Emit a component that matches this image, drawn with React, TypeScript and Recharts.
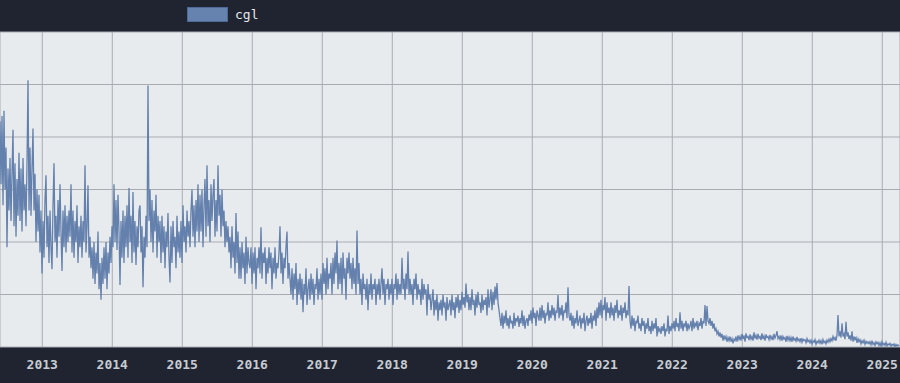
import { LineChart, Line, XAxis, YAxis, CartesianGrid } from 'recharts'

// first sample sits at the left edge, samples are ~5.2 days apart
const START = 2012.396
const STEP = 1 / 70

const YEARS = [2013, 2014, 2015, 2016, 2017, 2018, 2019, 2020, 2021, 2022, 2023, 2024, 2025]
const Y_TICKS = [0, 1, 2, 3, 4, 5, 6]

// cgl (one row ~ 2 months)
const CGL = [
  4.3, 3.1, 4.4, 2.7, 4.5, 3.0, 3.8, 1.9, 3.4, 2.6,
  3.6, 2.4, 3.3, 4.14, 2.3, 3.5, 2.1, 3.2, 2.5, 3.7,
  2.4, 3.4, 2.2, 3.6, 2.6, 3.1, 2.3, 3.5, 5.08, 2.6,
  3.8, 2.5, 3.4, 4.16, 2.6, 3.3, 2.0, 3.0, 2.2, 2.9,
  1.8, 2.6, 1.4, 2.4, 1.7, 2.8, 3.27, 1.9, 2.5, 1.6,
  2.6, 1.9, 1.48, 2.7, 3.5, 2.0, 2.5, 1.7, 2.8, 2.1,
  3.1, 2.2, 1.45, 2.6, 1.9, 2.7, 1.8, 2.5, 2.0, 2.6,
  2.1, 3.1, 1.8, 2.6, 1.7, 2.4, 2.0, 2.7, 1.6, 2.3,
  1.9, 2.5, 1.7, 2.4, 2.0, 3.46, 1.8, 2.3, 3.08, 1.7,
  2.1, 1.5, 1.9, 1.3, 2.0, 1.2, 1.8, 1.4, 2.2, 1.1,
  1.6, 0.9, 1.7, 1.2, 1.9, 1.3, 2.0, 1.1, 1.8, 1.4,
  2.1, 1.6, 2.3, 1.9, 3.1, 2.0, 2.8, 1.85, 2.9, 2.2,
  1.18, 2.4, 1.7, 2.6, 1.6, 2.5, 1.9, 2.7, 1.7, 3.03,
  2.0, 2.5, 1.6, 2.95, 1.8, 2.4, 1.56, 2.3, 1.9, 2.6,
  2.7, 1.8, 2.3, 1.14, 2.1, 1.7, 2.5, 1.9, 4.98, 2.4,
  3.0, 2.0, 2.8, 1.8, 2.6, 2.2, 2.9, 1.7, 2.5, 2.0,
  2.4, 1.6, 2.5, 1.8, 2.3, 1.5, 2.2, 1.9, 2.55, 1.7,
  1.23, 2.3, 1.6, 2.4, 1.9, 2.1, 1.5, 2.5, 1.8, 2.2,
  1.7, 2.4, 1.6, 2.7, 2.0, 2.3, 1.8, 2.6, 2.1, 2.4,
  1.9, 2.6, 3.0, 2.1, 2.7, 1.9, 2.8, 2.2, 3.1, 2.0,
  2.9, 2.2, 3.0, 1.9, 2.7, 3.2, 2.1, 3.46, 2.3, 2.8,
  2.0, 3.1, 2.4, 2.9, 3.2, 2.1, 2.8, 2.2, 3.46, 2.5,
  2.9, 2.1, 3.0, 2.3, 2.6, 1.9, 2.4, 2.0, 2.3, 1.8,
  2.1, 1.5, 2.3, 1.7, 2.0, 1.4, 2.55, 1.6, 2.2, 1.3,
  1.9, 1.3, 2.0, 1.5, 1.8, 1.2, 2.1, 1.4, 1.9, 1.6,
  1.5, 1.9, 1.2, 1.8, 1.4, 1.9, 1.1, 1.7, 1.5, 1.9,
  1.4, 2.28, 1.3, 1.8, 1.6, 1.9, 1.2, 1.7, 1.4, 1.9,
  1.5, 1.8, 1.1, 1.7, 1.4, 1.9, 1.3, 1.6, 1.5, 1.8,
  2.3, 1.4, 1.8, 1.2, 1.7, 1.5, 1.9, 2.2, 1.3, 1.6,
  1.3, 1.0, 1.5, 0.9, 1.4, 1.1, 1.6, 0.8, 1.3, 1.0,
  1.4, 0.9, 1.3, 0.66, 1.2, 1.0, 1.5, 0.8, 1.1, 1.3,
  0.9, 1.4, 1.0, 1.3, 0.8, 1.2, 1.1, 1.5, 0.9, 1.3,
  1.0, 1.4, 0.9, 1.6, 1.2, 1.5, 1.0, 1.7, 1.1, 1.4,
  1.3, 1.6, 1.0, 1.7, 1.2, 1.8, 1.4, 2.03, 1.1, 1.6,
  1.2, 1.7, 1.0, 1.8, 1.3, 1.5, 0.9, 1.7, 1.4, 1.8,
  1.3, 1.6, 1.1, 1.7, 1.2, 1.5, 1.0, 2.22, 1.2, 1.6,
  1.0, 1.3, 0.8, 1.4, 1.1, 1.2, 0.9, 1.3, 0.7, 1.2,
  1.0, 1.4, 0.9, 1.2, 1.1, 1.3, 0.8, 1.2, 1.0, 1.3,
  0.9, 1.2, 1.5, 1.0, 1.3, 0.8, 1.2, 1.1, 1.3, 0.9,
  1.2, 1.0, 1.3, 0.8, 1.2, 1.1, 1.4, 0.9, 1.3, 1.0,
  1.2, 1.0, 1.7, 1.1, 1.3, 0.9, 1.4, 1.1, 1.82, 1.0,
  1.3, 1.0, 1.2, 0.8, 1.3, 1.1, 1.4, 0.9, 1.2, 1.0,
  1.1, 0.8, 1.3, 0.9, 1.2, 1.0, 1.1, 0.6, 1.2, 0.9,
  1.0, 0.7, 0.9, 1.1, 0.6, 0.9, 0.7, 1.0, 0.5, 0.85,
  0.7, 0.9, 0.6, 1.0, 0.75, 0.85, 0.5, 0.95, 0.7, 0.8,
  0.9, 0.6, 1.0, 0.7, 0.85, 0.55, 0.95, 0.75, 1.0, 0.65,
  0.9, 0.7, 1.05, 0.8, 0.95, 0.75, 1.21, 0.85, 1.0, 0.7,
  0.95, 0.7, 1.1, 0.8, 0.9, 0.6, 1.0, 0.75, 1.05, 0.8,
  0.85, 0.65, 1.0, 0.7, 0.9, 0.8, 0.95, 0.6, 1.1, 0.75,
  0.9, 1.1, 0.7, 1.05, 0.8, 1.15, 0.9, 1.22, 0.85, 0.7,
  0.55, 0.4, 0.65, 0.35, 0.6, 0.45, 0.7, 0.4, 0.55, 0.35,
  0.6, 0.45, 0.5, 0.35, 0.65, 0.4, 0.55, 0.5, 0.6, 0.38,
  0.55, 0.45, 0.7, 0.4, 0.6, 0.35, 0.5, 0.55, 0.4, 0.62,
  0.5, 0.7, 0.45, 0.75, 0.55, 0.65, 0.4, 0.7, 0.6, 0.5,
  0.75, 0.5, 0.8, 0.55, 0.7, 0.45, 0.65, 0.6, 0.85, 0.5,
  0.7, 0.55, 0.8, 0.6, 0.75, 0.5, 0.7, 0.65, 0.99, 0.55,
  0.75, 0.6, 0.8, 0.5, 0.7, 0.65, 0.85, 0.55, 1.14, 0.6,
  0.5, 0.65, 0.4, 0.6, 0.35, 0.55, 0.45, 0.7, 0.4, 0.5,
  0.6, 0.35, 0.55, 0.45, 0.65, 0.3, 0.5, 0.6, 0.4, 0.55,
  0.45, 0.65, 0.35, 0.6, 0.5, 0.7, 0.4, 0.75, 0.55, 0.85,
  0.6, 0.9, 0.55, 0.8, 0.7, 0.95, 0.5, 0.85, 0.65, 0.75,
  0.55, 0.85, 0.6, 0.75, 0.5, 0.8, 0.65, 0.9, 0.55, 0.7,
  0.6, 0.8, 0.5, 0.75, 0.65, 0.85, 0.55, 0.7, 0.6, 1.16,
  0.5, 0.35, 0.6, 0.4, 0.55, 0.3, 0.5, 0.45, 0.6, 0.35,
  0.45, 0.3, 0.55, 0.4, 0.5, 0.25, 0.45, 0.35, 0.55, 0.3,
  0.4, 0.25, 0.5, 0.3, 0.45, 0.35, 0.55, 0.2, 0.4, 0.3,
  0.35, 0.25, 0.4, 0.3, 0.45, 0.2, 0.35, 0.3, 0.6, 0.25,
  0.4, 0.3, 0.45, 0.35, 0.5, 0.3, 0.55, 0.38, 0.45, 0.3,
  0.66, 0.35, 0.5, 0.3, 0.45, 0.4, 0.5, 0.3, 0.45, 0.35,
  0.4, 0.5, 0.3, 0.55, 0.35, 0.45, 0.4, 0.5, 0.32, 0.45,
  0.4, 0.55, 0.35, 0.5, 0.45, 0.8, 0.4, 0.78, 0.5, 0.45,
  0.55, 0.4, 0.5, 0.35, 0.45, 0.3, 0.35, 0.25, 0.3, 0.2,
  0.28, 0.18, 0.25, 0.12, 0.22, 0.15, 0.2, 0.1, 0.18, 0.12,
  0.2, 0.1, 0.16, 0.07, 0.15, 0.12, 0.2, 0.1, 0.22, 0.14,
  0.2, 0.12, 0.25, 0.15, 0.22, 0.1, 0.26, 0.18, 0.2, 0.13,
  0.24, 0.15, 0.2, 0.12, 0.28, 0.16, 0.22, 0.14, 0.25, 0.17,
  0.2, 0.13, 0.26, 0.15, 0.21, 0.12, 0.24, 0.18, 0.2, 0.14,
  0.23, 0.15, 0.2, 0.13, 0.25, 0.17, 0.22, 0.3, 0.16, 0.2,
  0.14, 0.22, 0.12, 0.2, 0.15, 0.18, 0.1, 0.21, 0.13, 0.19,
  0.12, 0.18, 0.1, 0.2, 0.13, 0.16, 0.11, 0.19, 0.12, 0.15,
  0.1, 0.17, 0.09, 0.15, 0.12, 0.14, 0.08, 0.16, 0.1, 0.13,
  0.08, 0.13, 0.06, 0.12, 0.09, 0.14, 0.05, 0.11, 0.08, 0.13,
  0.07, 0.12, 0.05, 0.14, 0.08, 0.11, 0.06, 0.13, 0.09, 0.15,
  0.1, 0.16, 0.12, 0.2, 0.14, 0.18, 0.12, 0.22, 0.61, 0.2,
  0.3, 0.18, 0.45, 0.2, 0.25, 0.15, 0.48, 0.2, 0.28, 0.15,
  0.22, 0.12, 0.3, 0.1, 0.2, 0.14, 0.18, 0.08, 0.16, 0.1,
  0.14, 0.06, 0.12, 0.08, 0.13, 0.05, 0.11, 0.07, 0.1, 0.06,
  0.1, 0.04, 0.12, 0.05, 0.08, 0.03, 0.1, 0.06, 0.09, 0.03,
  0.08, 0.02, 0.1, 0.04, 0.07, 0.03, 0.09, 0.02, 0.06, 0.04,
  0.07, 0.02, 0.05, 0.03, 0.06, 0.01, 0.05, 0.02, 0.04, 0.02,
]

const data = CGL.map((v, i) => ({ t: START + i * STEP, cgl: v }))
const END = START + 900 / 70

const MONO = '"DejaVu Sans Mono", monospace'

export default function App() {
  return (
    <div style={{ position: 'absolute', left: 0, top: 0, width: 900, height: 383, background: '#1f2430' }}>
      <LineChart width={900} height={383} data={data} margin={{ top: 32, right: 0, bottom: 0, left: 0 }}>
        <CartesianGrid fill="#e8ebee" stroke="#a8abb0" strokeWidth={1} />
        <XAxis
          dataKey="t"
          type="number"
          domain={[START, END]}
          ticks={YEARS}
          tickFormatter={(v) => String(Math.round(v))}
          axisLine={false}
          tickLine={false}
          allowDataOverflow
          height={36}
          tick={{ fill: '#c8ccd2', fontSize: 13, fontFamily: MONO, fontWeight: 'bold' }}
          tickMargin={7}
        />
        <YAxis hide domain={[0, 6]} ticks={Y_TICKS} />
        <Line dataKey="cgl" stroke="#6480ad" strokeWidth={1.3} dot={false} isAnimationActive={false} />
      </LineChart>
      {/* legend */}
      <div style={{ position: 'absolute', left: 187, top: 7, display: 'flex', alignItems: 'center', fontFamily: MONO, fontSize: 13, color: '#e6e8eb' }}>
        <span style={{ display: 'inline-block', width: 39, height: 13, background: '#6683b0', border: '1px solid #4d6a97', marginRight: 7 }} />
        cgl
      </div>
    </div>
  )
}
